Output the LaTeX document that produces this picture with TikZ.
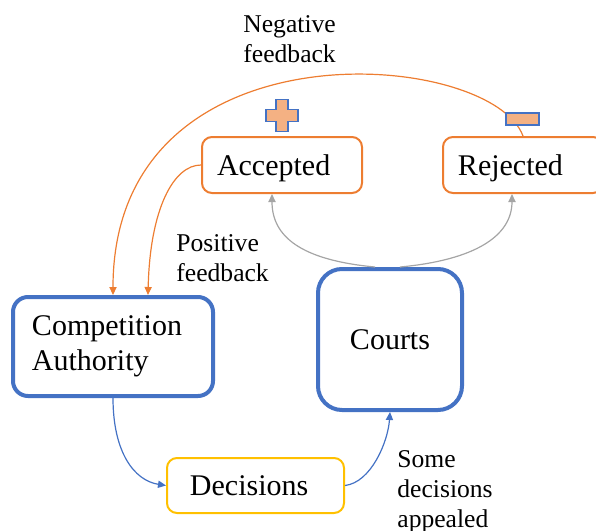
\documentclass[tikz,border=0pt]{standalone}
\usepackage{fontspec}
\setmainfont{Liberation Serif}
\usetikzlibrary{arrows.meta,calc}

\definecolor{boxblue}{HTML}{4472C4}
\definecolor{boxorange}{HTML}{ED7D31}
\definecolor{boxyellow}{HTML}{FFC000}
\definecolor{signfill}{HTML}{F4B183}
\definecolor{arrowgray}{HTML}{A5A5A5}

\begin{document}
\begin{tikzpicture}[x=0.5pt, y=-0.5pt, >={Triangle[length=4pt,width=3.6pt]},
	every node/.style={font=\fontsize{15}{17.5}\selectfont},
	outcome/.style={draw=boxorange, line width=1pt, rounded corners=5pt, minimum width=80pt, minimum height=28pt, text width=65pt, inner xsep=7.5pt, align=left, text depth=0pt},
	actor/.style={draw=boxblue, line width=2pt},
	decbox/.style={draw=boxyellow, line width=1pt, rounded corners=5pt, minimum width=88.5pt, minimum height=27.5pt, text width=65.5pt, inner xsep=11.5pt, align=left},
	note/.style={font=\fontsize{12.8}{15}\selectfont, align=left, inner sep=0pt, anchor=north west},
	fbarrow/.style={->, draw=boxorange, line width=0.6pt},
	flowarrow/.style={->, draw=boxblue, line width=0.6pt},
	grayarrow/.style={->, draw=arrowgray, line width=0.6pt},
	sign/.style={fill=signfill, draw=boxblue, line width=0.8pt}]
	\useasboundingbox (0,0) rectangle (596,531);
	\clip (0,0) rectangle (596,531);
	\node[outcome] (acc) at (282,165) {Accepted};
	\node[outcome] (rej) at (523,165) {Rejected};
	\node[actor, rounded corners=7.5pt, minimum width=100pt, minimum height=49.5pt, text width=81pt, inner xsep=9.5pt, align=left] (ca) at (113,346.5) {Competition\\Authority};
	\node[actor, rounded corners=12pt, minimum width=72pt, minimum height=70.5pt] (courts) at (390,339.5) {Courts};
	\node[decbox] (dec) at (255.5,485.5) {Decisions};
	\node[note] (negfb) at (243,15.5) {Negative\\feedback};
	\node[note] (posfb) at (176,234.5) {Positive\\feedback};
	\node[note] (appeal) at (397,450) {Some\\decisions\\appealed};
	\draw[fbarrow] (rej.north) .. controls +(-32,-87) and +(0,-277) .. (ca.north);
	\draw[fbarrow] (acc.west) .. controls +(-27,0) and +(2,-87) .. ($(ca.north)+(35,0)$);
	\draw[grayarrow] ($(courts.north)+(-15,0)$) .. controls +(-75,-7) and +(0,42) .. ($(acc.south)+(-10,0)$);
	\draw[grayarrow] ($(courts.north)+(10,0)$) .. controls +(75,-7) and +(0,42) .. ($(rej.south)+(-11,0)$);
	\draw[flowarrow] (ca.south) .. controls +(0,54) and +(-32,-5) .. (dec.west);
	\draw[flowarrow] (dec.east) .. controls +(26,-3) and +(-2,30) .. (courts.south);
	\filldraw[sign, shift={($(acc.north)+(0,-20.5)$)}] (-6,-16) -- (6,-16) -- (6,-6) -- (16,-6) -- (16,6) -- (6,6) -- (6,16) -- (-6,16) -- (-6,6) -- (-16,6) -- (-16,-6) -- (-6,-6) -- cycle;
	\filldraw[sign] ($(rej.north)+(-17,-23)$) rectangle ($(rej.north)+(16,-11)$);
\end{tikzpicture}
\end{document}
